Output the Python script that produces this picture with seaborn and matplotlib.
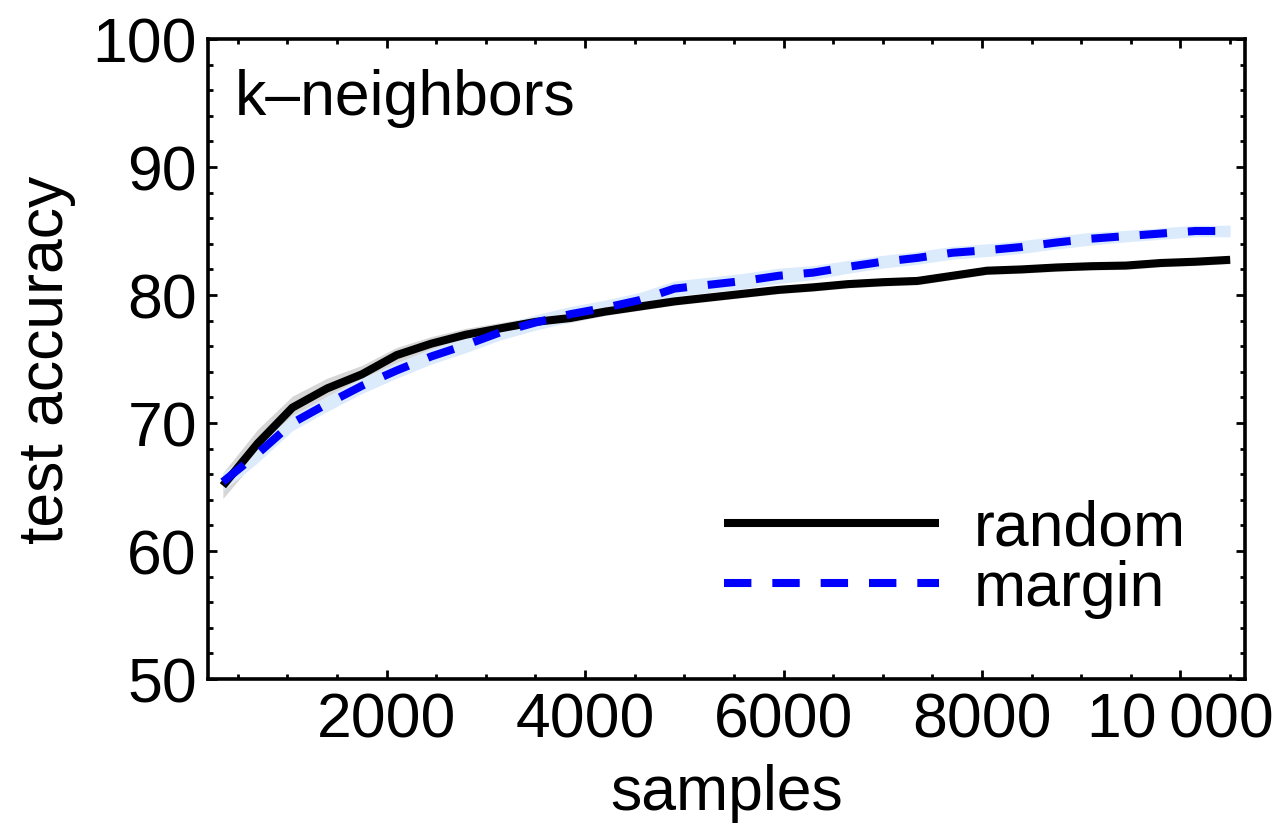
import numpy as np
import pandas as pd
import matplotlib
matplotlib.use("Agg")
import matplotlib.pyplot as plt
import seaborn as sns
from matplotlib.ticker import MultipleLocator
from matplotlib.lines import Line2D

# ---- data ----
samples = [350, 700, 1050, 1400, 1750, 2100, 2450, 2800, 3150, 3500,
           3850, 4200, 4550, 4900, 5250, 5600, 5950, 6300, 6650, 7000,
           7350, 7700, 8050, 8400, 8750, 9100, 9450, 9800, 10150, 10500]
random_acc = [65.1, 68.4, 71.2, 72.7, 73.8, 75.3, 76.2, 76.9, 77.4, 77.9,
              78.2, 78.7, 79.1, 79.5, 79.8, 80.1, 80.4, 80.6, 80.85, 81.0,
              81.1, 81.5, 81.9, 82.0, 82.15, 82.25, 82.3, 82.5, 82.6, 82.75]
margin_acc = [65.4, 67.6, 70.0, 71.5, 72.9, 74.1, 75.2, 76.1, 77.1, 77.85,
              78.5, 79.0, 79.6, 80.5, 80.8, 81.1, 81.5, 81.75, 82.2, 82.6,
              82.9, 83.3, 83.5, 83.75, 84.1, 84.4, 84.6, 84.8, 85.0, 85.0]
random_err = [1.0, 1.1, 0.9, 0.8, 0.7, 0.6, 0.55, 0.5, 0.45, 0.4,
              0.35, 0.3, 0.3, 0.3, 0.3, 0.3, 0.3, 0.3, 0.3, 0.3,
              0.3, 0.3, 0.3, 0.3, 0.3, 0.3, 0.3, 0.3, 0.3, 0.3]
margin_err = [0.7, 0.7, 0.6, 0.6, 0.6, 0.6, 0.6, 0.6, 0.6, 0.6,
              0.6, 0.6, 0.6, 0.6, 0.6, 0.6, 0.6, 0.55, 0.5, 0.5,
              0.5, 0.5, 0.5, 0.5, 0.5, 0.5, 0.45, 0.45, 0.45, 0.45]
methods = ["random", "margin"]
x_ticks = [2000, 4000, 6000, 8000, 10000]
x_tick_labels = ["2000", "4000", "6000", "8000", "10\u2009000"]
y_ticks = [50, 60, 70, 80, 90, 100]
y_tick_labels = ["50", "60", "70", "80", "90", "100"]
panel_title = "k\u2013neighbors"
x_label = "samples"
y_label = "test accuracy"

sns.set_theme(style="ticks")
plt.rcParams["font.family"] = ["Liberation Sans", "DejaVu Sans"]
plt.rcParams["text.color"] = "black"
plt.rcParams["axes.labelcolor"] = "black"
plt.rcParams["xtick.color"] = "black"
plt.rcParams["ytick.color"] = "black"

FS = 45

df = pd.DataFrame({
    "samples": samples * 2,
    "accuracy": random_acc + margin_acc,
    "method": [methods[0]] * len(samples) + [methods[1]] * len(samples),
})

fig = plt.figure(figsize=(12.77, 8.37), dpi=100)
ax = fig.add_axes([208 / 1277, 1 - 680 / 837, (1245 - 208) / 1277, (680 - 40) / 837])

s = np.array(samples)
ra, re = np.array(random_acc), np.array(random_err)
ma, me = np.array(margin_acc), np.array(margin_err)
ax.fill_between(s, ra - re, ra + re, color="#d6d6d6", lw=0, zorder=1)
ax.fill_between(s, ma - me, ma + me, color="#dcebfb", lw=0, zorder=1.5)

sns.lineplot(data=df, x="samples", y="accuracy", hue="method", style="method",
             hue_order=methods, style_order=methods,
             palette={"random": "black", "margin": "#0000ff"},
             dashes={"random": "", "margin": (3.4, 2.6)},
             linewidth=5.8, ax=ax, zorder=3, legend=False)
for ln in ax.get_lines():
    ln.set_solid_capstyle("butt")
    ln.set_dash_capstyle("butt")
lines = ax.get_lines()
lines[1].set_zorder(4)

ax.set_xlim(200, 10650)
ax.set_ylim(50, 100)
ax.set_xticks(x_ticks)
ax.set_xticklabels(x_tick_labels)
ax.set_yticks(y_ticks)
ax.set_yticklabels(y_tick_labels)
ax.xaxis.set_minor_locator(MultipleLocator(500))
ax.yaxis.set_minor_locator(MultipleLocator(2))
ax.tick_params(which="both", direction="in", top=True, right=True, width=2, color="black")
ax.tick_params(which="major", length=6.5, labelsize=FS, pad=8, labelcolor="black")
ax.tick_params(which="minor", length=3.5)
for sp in ax.spines.values():
    sp.set_linewidth(2.6)
    sp.set_color("black")

ax.set_xlabel(x_label, fontsize=FS, labelpad=10, color="black")
ax.set_ylabel(y_label, fontsize=FS, labelpad=12, color="black")

ax.text(0.026, 0.955, panel_title, transform=ax.transAxes, fontsize=FS,
        ha="left", va="top", color="black")

handles = [Line2D([], [], color="black", lw=5.8, solid_capstyle="butt"),
           Line2D([], [], color="#0000ff", lw=5.8, dashes=(3.4, 2.6), dash_capstyle="butt")]
leg = ax.legend(handles, methods, loc="lower left", bbox_to_anchor=(0.4976, 0.095),
                frameon=False, fontsize=FS, handlelength=3.44, handletextpad=0.56,
                labelspacing=0.02, borderpad=0, borderaxespad=0)
for t in leg.get_texts():
    t.set_color("black")

fig.savefig("out.png", dpi=100)
